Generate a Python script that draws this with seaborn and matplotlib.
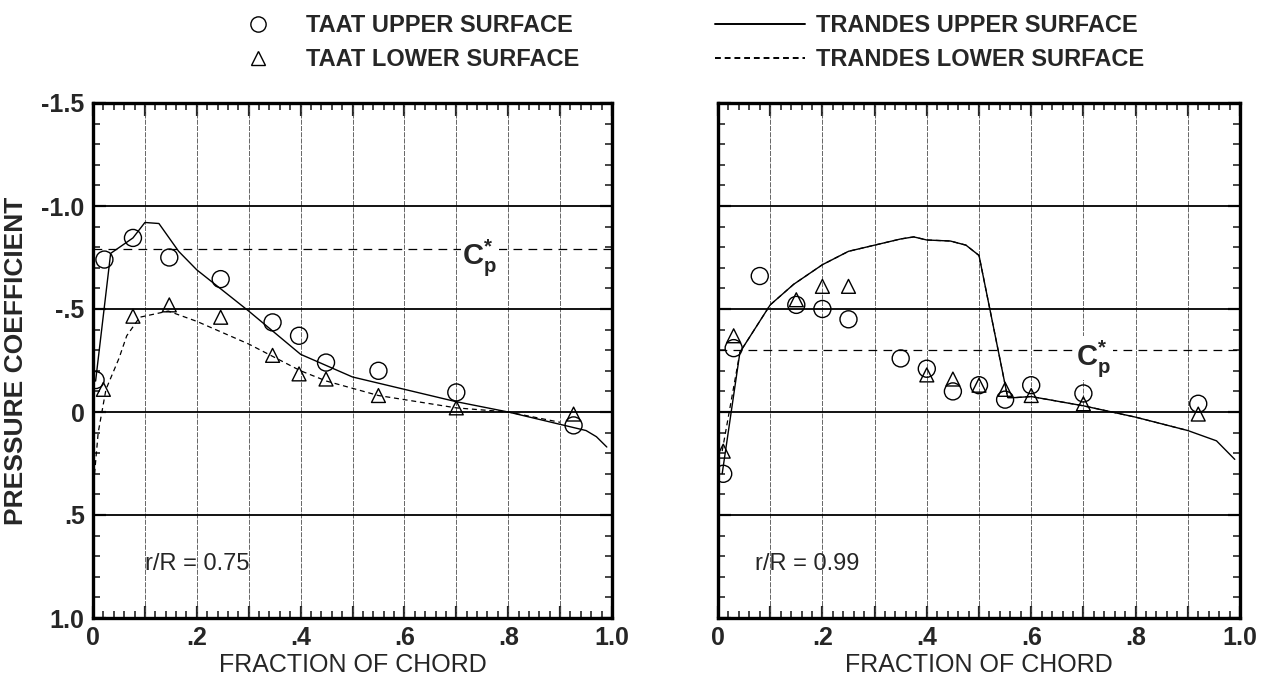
import matplotlib
matplotlib.use("Agg")
import matplotlib.pyplot as plt
import seaborn as sns
import numpy as np
import pandas as pd
from matplotlib.lines import Line2D
from matplotlib.ticker import MultipleLocator

# ---------------- data ----------------
# r/R = 0.75
taat_up_x_75 = [0.005, 0.022, 0.077, 0.147, 0.246, 0.346, 0.397, 0.449, 0.55, 0.70, 0.926]
taat_up_cp_75 = [-0.155, -0.74, -0.845, -0.75, -0.645, -0.435, -0.37, -0.24, -0.20, -0.095, 0.065]
taat_lo_x_75 = [0.02, 0.077, 0.147, 0.246, 0.346, 0.397, 0.449, 0.55, 0.70, 0.926]
taat_lo_cp_75 = [-0.11, -0.465, -0.52, -0.46, -0.275, -0.185, -0.16, -0.08, -0.02, 0.01]
tr_up_x_75 = [0.005, 0.034, 0.077, 0.10, 0.127, 0.165, 0.20, 0.30, 0.40, 0.50, 0.60, 0.70, 0.80, 0.90, 0.95, 0.97, 0.99]
tr_up_cp_75 = [-0.15, -0.77, -0.845, -0.92, -0.915, -0.78, -0.69, -0.49, -0.28, -0.17, -0.11, -0.05, 0.0, 0.06, 0.09, 0.12, 0.17]
tr_lo_x_75 = [0.003, 0.01, 0.025, 0.05, 0.065, 0.09, 0.145, 0.20, 0.30, 0.40, 0.45, 0.55, 0.70, 0.80, 0.90]
tr_lo_cp_75 = [0.30, 0.10, -0.11, -0.26, -0.37, -0.46, -0.49, -0.44, -0.33, -0.20, -0.15, -0.08, -0.02, 0.0, 0.05]
cp_star_75 = -0.79

# r/R = 0.99
taat_up_x_99 = [0.01, 0.03, 0.08, 0.15, 0.20, 0.25, 0.35, 0.40, 0.45, 0.50, 0.55, 0.60, 0.70, 0.92]
taat_up_cp_99 = [0.30, -0.31, -0.66, -0.52, -0.50, -0.45, -0.26, -0.21, -0.10, -0.13, -0.06, -0.13, -0.09, -0.04]
taat_lo_x_99 = [0.01, 0.03, 0.15, 0.20, 0.25, 0.40, 0.45, 0.50, 0.55, 0.60, 0.70, 0.92]
taat_lo_cp_99 = [0.19, -0.37, -0.545, -0.61, -0.61, -0.18, -0.16, -0.13, -0.11, -0.08, -0.04, 0.01]
tr_up_x_99 = [0.008, 0.042, 0.10, 0.145, 0.20, 0.25, 0.30, 0.35, 0.375, 0.40, 0.445, 0.475, 0.50, 0.555, 0.57, 0.60, 0.70, 0.80, 0.90, 0.955, 0.99]
tr_up_cp_99 = [0.30, -0.29, -0.52, -0.62, -0.715, -0.78, -0.81, -0.84, -0.85, -0.835, -0.83, -0.81, -0.76, -0.07, -0.07, -0.075, -0.03, 0.025, 0.09, 0.14, 0.23]
tr_lo_x_99 = [0.008, 0.042, 0.10, 0.145, 0.20, 0.25, 0.30, 0.35, 0.375, 0.40, 0.445, 0.475, 0.50, 0.555, 0.57, 0.60, 0.70, 0.80, 0.90]
tr_lo_cp_99 = [0.19, -0.29, -0.52, -0.62, -0.715, -0.78, -0.81, -0.84, -0.85, -0.835, -0.83, -0.81, -0.76, -0.07, -0.07, -0.075, -0.03, 0.025, 0.09]
cp_star_99 = -0.30

x_tick_labels = ["0", "", ".2", "", ".4", "", ".6", "", ".8", "", "1.0"]
y_tick_vals = [-1.5, -1.0, -0.5, 0, 0.5, 1.0]
y_tick_labels = ["-1.5", "-1.0", "-.5", "0", ".5", "1.0"]

legend_labels = ["TAAT UPPER SURFACE", "TAAT LOWER SURFACE",
                 "TRANDES UPPER SURFACE", "TRANDES LOWER SURFACE"]
panel_labels = ["r/R = 0.75", "r/R = 0.99"]

# ---------------- style ----------------
sns.set_style("white")
plt.rcParams["font.family"] = ["Liberation Sans", "DejaVu Sans"]
plt.rcParams["mathtext.fontset"] = "custom"
plt.rcParams["mathtext.rm"] = "Liberation Sans:bold"
plt.rcParams["mathtext.it"] = "Liberation Sans:bold"
plt.rcParams["mathtext.bf"] = "Liberation Sans:bold"

fig = plt.figure(figsize=(12.62, 6.82), dpi=100)
ax1 = fig.add_axes([93 / 1262, 64 / 682, 519 / 1262, 515 / 682])
ax2 = fig.add_axes([718 / 1262, 64 / 682, 522 / 1262, 515 / 682])

panels = [
    (ax1, taat_up_x_75, taat_up_cp_75, taat_lo_x_75, taat_lo_cp_75,
     tr_up_x_75, tr_up_cp_75, tr_lo_x_75, tr_lo_cp_75, cp_star_75, 0.745, panel_labels[0], 0.20),
    (ax2, taat_up_x_99, taat_up_cp_99, taat_lo_x_99, taat_lo_cp_99,
     tr_up_x_99, tr_up_cp_99, tr_lo_x_99, tr_lo_cp_99, cp_star_99, 0.72, panel_labels[1], 0.17),
]

for i, (ax, ux, uc, lx, lc, tux, tuc, tlx, tlc, cps, cpx, plab, plx) in enumerate(panels):
    ax.set_xlim(0, 1.0)
    ax.set_ylim(1.0, -1.5)

    ax.xaxis.set_minor_locator(MultipleLocator(0.02))
    ax.yaxis.set_minor_locator(MultipleLocator(0.1))
    ax.grid(False)
    for gx in np.arange(0.1, 1.0, 0.1):
        ax.axvline(gx, color="0.3", lw=0.6, ls=(0, (6, 1.5)), zorder=1)
    for gy in [-1.0, -0.5, 0.0, 0.5]:
        ax.axhline(gy, color="black", lw=1.3, zorder=1)

    # Cp* line
    ax.axhline(cps, color="black", lw=0.9, ls=(0, (7, 5)), zorder=1)
    ax.text(cpx, cps + 0.04, r"C$_\mathrm{p}^{*}$", fontsize=21, fontweight="bold",
            ha="center", va="center", zorder=3,
            bbox=dict(facecolor="white", edgecolor="none", pad=1))

    # lines
    sns.lineplot(x=tux, y=tuc, ax=ax, color="black", lw=1.0, sort=False,
                 estimator=None, zorder=2)
    sns.lineplot(x=tlx, y=tlc, ax=ax, color="black", lw=0.9, sort=False,
                 estimator=None, linestyle=(0, (4, 3)), zorder=2)
    # markers
    sns.scatterplot(x=ux, y=uc, ax=ax, marker="o", s=150, facecolor="none",
                    edgecolor="black", linewidth=1.0, zorder=4)
    sns.scatterplot(x=lx, y=lc, ax=ax, marker="^", s=100, facecolor="none",
                    edgecolor="black", linewidth=1.0, zorder=4)

    ax.text(plx, 0.74, plab, fontsize=17, ha="center", va="center")

    # ticks
    ax.tick_params(axis="both", which="major", direction="in", length=9, width=1.6,
                   top=True, right=True, bottom=True, left=True, labelsize=18, pad=6)
    ax.tick_params(axis="both", which="minor", direction="in", length=5, width=1.2,
                   top=True, right=True, bottom=True, left=True)
    ax.set_xticks(np.arange(0, 1.01, 0.1))
    ax.set_xticklabels(x_tick_labels)
    ax.set_yticks(y_tick_vals)
    for lab in ax.get_xticklabels():
        lab.set_fontweight("bold")
    if i == 0:
        ax.set_yticklabels(y_tick_labels, fontweight="bold")
        ax.set_ylabel("PRESSURE COEFFICIENT", fontsize=19, fontweight="bold", labelpad=10)
    else:
        ax.set_yticklabels([])
        ax.set_ylabel("")
    ax.set_xlabel("FRACTION OF CHORD", fontsize=18, labelpad=2)
    for s in ax.spines.values():
        s.set_visible(True)
        s.set_color("black")
        s.set_linewidth(2.4)

marker_handles = [
    Line2D([], [], marker="o", ls="none", markerfacecolor="none", markeredgecolor="black", markersize=11),
    Line2D([], [], marker="^", ls="none", markerfacecolor="none", markeredgecolor="black", markersize=10),
]
line_handles = [
    Line2D([], [], color="black", lw=1.4),
    Line2D([], [], color="black", lw=1.4, ls=(0, (3, 2))),
]
leg1 = fig.legend(marker_handles, legend_labels[:2], loc="upper left",
                  bbox_to_anchor=(204 / 1262, 1.01), frameon=False,
                  prop=dict(size=17, weight="bold"), handlelength=2.8,
                  handletextpad=0.6, labelspacing=0.45)
leg2 = fig.legend(line_handles, legend_labels[2:], loc="upper left",
                  bbox_to_anchor=(694 / 1262, 1.01), frameon=False,
                  prop=dict(size=17, weight="bold"), handlelength=3.8,
                  handletextpad=0.45, labelspacing=0.45)

fig.savefig("out.png", dpi=100)
